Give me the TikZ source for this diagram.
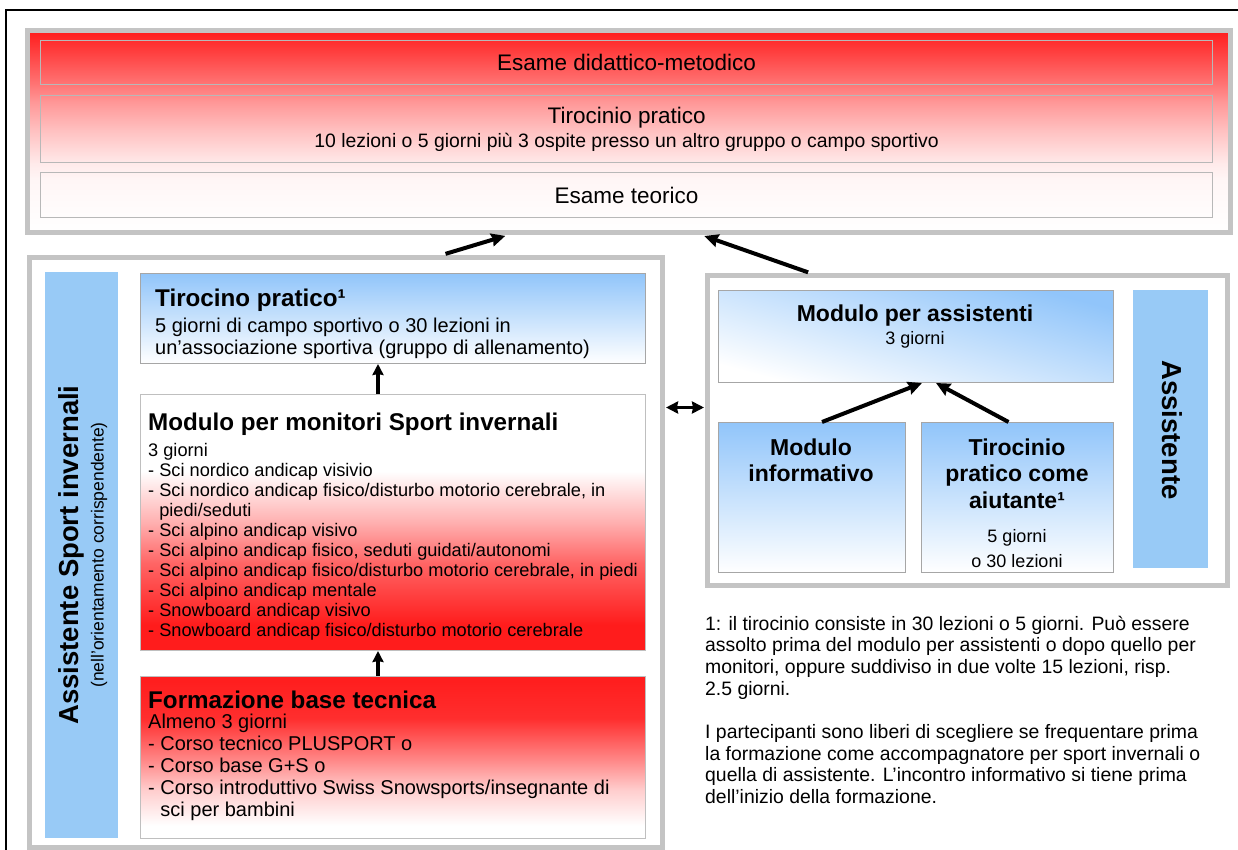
\documentclass[tikz,border=0pt]{standalone}
\usepackage{fontspec}
\setmainfont{Liberation Sans}
\usetikzlibrary{arrows.meta,positioning,calc}

\definecolor{hotred}{RGB}{255,28,28}
\definecolor{skyblue}{RGB}{145,197,250}
\definecolor{barblue}{RGB}{152,202,246}
\definecolor{framegray}{RGB}{196,196,196}

% fades, bottom (25bp) to top (75bp)
\pgfdeclareverticalshading{examfade}{100bp}{color(0bp)=(white); color(25bp)=(white); color(38bp)=(hotred!4!white); color(42bp)=(hotred!9!white); color(50bp)=(hotred!27!white); color(57bp)=(hotred!45!white); color(62bp)=(hotred!62!white); color(75bp)=(hotred); color(100bp)=(hotred)}
\pgfdeclareverticalshading{monfade}{100bp}{color(0bp)=(hotred); color(30bp)=(hotred); color(42bp)=(hotred!68!white); color(50bp)=(hotred!35!white); color(60bp)=(white); color(100bp)=(white)}
\pgfdeclareverticalshading{basefade}{100bp}{color(0bp)=(white); color(29bp)=(white); color(40bp)=(hotred!22!white); color(49bp)=(hotred!52!white); color(62bp)=(hotred!92!white); color(75bp)=(hotred); color(100bp)=(hotred)}

\newcommand\headfont{\fontsize{22.5}{26}\selectfont}
\newcommand\subfont{\fontsize{19.4}{24}\selectfont}
\newcommand\titlefont{\bfseries\fontsize{24.2}{27}\selectfont}
\newcommand\bodyfont{\fontsize{20}{22}\selectfont}
\newcommand\listfont{\fontsize{18.2}{20}\selectfont}
\newcommand\rtitlefont{\bfseries\fontsize{23}{26.5}\selectfont}
\newcommand\rbodyfont{\fontsize{18}{25}\selectfont}
\newcommand\notefont{\fontsize{19.4}{21.7}\selectfont}
\newcommand\barfont{\bfseries\fontsize{27.5}{30}\selectfont}

\tikzset{
  frame/.style={draw=framegray, line width=5pt, anchor=north west, inner sep=0pt},
  stripe/.style={draw=black!28, line width=1.2pt, minimum width=1172pt, anchor=north west, align=center, inner sep=0pt},
  bluebox/.style={draw=black!35, line width=1pt, top color=skyblue, bottom color=white, anchor=north west, inner sep=0pt},
  redbox/.style={draw=black!25, line width=1pt, shade, anchor=north west, inner sep=0pt},
  bar/.style={fill=barblue, anchor=north west, inner sep=0pt},
  txt/.style={anchor=base west, align=left, inner sep=0pt},
  ctxt/.style={anchor=base, align=center, inner sep=0pt},
  fat/.style={-{Stealth[length=14pt,width=13pt,inset=1.5pt]}, line width=4pt},
  fatshort/.style={-{Stealth[length=11pt,width=11pt,inset=1pt]}, line width=3.5pt},
  fatboth/.style={{Stealth[length=12pt,width=12pt,inset=1pt]}-{Stealth[length=12pt,width=12pt,inset=1pt]}, line width=3pt},
}

\begin{document}
\begin{tikzpicture}[x=1pt,y=-1pt]
\useasboundingbox (0,0) rectangle (1238,850);
\draw[line width=1.2pt] (6,850) -- (6,10) -- (1238,10);

% exams on top
\node[frame, shade, shading=examfade, minimum width=1203pt, minimum height=202pt] (examframe) at (25,28) {};
\node[stripe, minimum height=44pt, font=\headfont] (didattico) at (40,40) {Esame didattico-metodico};
\node[stripe, minimum height=67pt, font=\subfont] (tiropratico) at (40,95) {{\headfont Tirocinio pratico}\\10 lezioni o 5 giorni più 3 ospite presso un altro gruppo o campo sportivo};
\node[stripe, minimum height=45pt, font=\headfont] (teorico) at (40,172) {Esame teorico};

% winter sports path
\node[frame, fill=white, minimum width=633pt, minimum height=590pt] (wintframe) at (27,255) {};
\node[bar, minimum width=73pt, minimum height=566pt] (wintbar) at (45,272) {};
\node[rotate=90, font=\barfont, inner sep=0pt] (wintlabel) at (71,555) {Assistente Sport invernali};
\node[rotate=90, font=\fontsize{17.5}{20}\selectfont, inner sep=0pt] (wintsub) at (99,555) {(nell’orientamento corrispendente)};

\node[bluebox, minimum width=505pt, minimum height=90pt] (tirocino) at (140,273) {};
\node[txt, font=\titlefont] (tirocinoT) at (155,306) {Tirocino pratico¹};
\node[txt, font=\bodyfont] (tirocinoB) at (155,354) {5 giorni di campo sportivo o 30 lezioni in\\un’associazione sportiva (gruppo di allenamento)};

\node[redbox, shading=monfade, minimum width=505pt, minimum height=256pt] (monitori) at (140,394) {};
\node[txt, font=\titlefont] (monitoriT) at (148,430) {Modulo per monitori Sport invernali};
\node[txt, font=\listfont] (monitoriB) at (148,636) {3 giorni\\
- Sci nordico andicap visivio\\
- Sci nordico andicap fisico/disturbo motorio cerebrale, in\\
\phantom{- }piedi/seduti\\
- Sci alpino andicap visivo\\
- Sci alpino andicap fisico, seduti guidati/autonomi\\
- Sci alpino andicap fisico/disturbo motorio cerebrale, in piedi\\
- Sci alpino andicap mentale\\
- Snowboard andicap visivo\\
- Snowboard andicap fisico/disturbo motorio cerebrale};

\node[redbox, shading=basefade, minimum width=505pt, minimum height=162pt] (base) at (140,676) {};
\node[txt, font=\titlefont] (baseT) at (148,708) {Formazione base tecnica};
\node[txt, font=\bodyfont] (baseB) at (148,816) {Almeno 3 giorni\\
- Corso tecnico PLUSPORT o\\
- Corso base G+S o\\
- Corso introduttivo Swiss Snowsports/insegnante di\\
\phantom{- }sci per bambini};

\draw[fatshort] ([xshift=-15pt]monitori.north) -- ([xshift=-15pt]tirocino.south);
\draw[fatshort] ([xshift=-15pt]base.north) -- ([xshift=-15pt]monitori.south);

% assistant path
\node[frame, fill=white, minimum width=520pt, minimum height=310pt] (assframe) at (705,273) {};
\node[bluebox, shading angle=-15, minimum width=395pt, minimum height=92pt] (assmod) at (718,290) {};
\node[ctxt, font=\rtitlefont] (assmodT) at (915,321) {Modulo per assistenti};
\node[ctxt, font=\rbodyfont] (assmodB) at (915,344) {3 giorni};
\node[bar, minimum width=75pt, minimum height=278pt] (assbar) at (1133,290) {};
\node[rotate=-90, font=\barfont, inner sep=0pt] (asslabel) at (1172,430) {Assistente};

\node[bluebox, minimum width=187pt, minimum height=150pt] (info) at (718,422) {};
\node[ctxt, font=\rtitlefont] (infoT) at (811,481.5) {Modulo\\informativo};
\node[bluebox, minimum width=192pt, minimum height=150pt] (aiutante) at (921,422) {};
\node[ctxt, font=\rtitlefont] (aiutanteT) at (1017,508) {Tirocinio\\pratico come\\aiutante¹};
\node[ctxt, font=\rbodyfont] (aiutanteB) at (1017,567) {5 giorni\\o 30 lezioni};

\draw[fat] ([xshift=10pt]info.north) -- ([xshift=6pt]assmod.south);
\draw[fat] ([xshift=-9pt]aiutante.north) -- ([xshift=20pt]assmod.south);

% links between the paths
\draw[fat, shorten <=4pt, shorten >=3pt] ($(wintframe.north west)!.65!(wintframe.north east)$) -- ($(examframe.south west)!.4!(examframe.south east)$);
\draw[fat, shorten <=2pt, shorten >=3pt] ($(assframe.north west)!.2!(assframe.north east)$) -- ($(examframe.south west)!.56!(examframe.south east)$);
\draw[fatboth, shorten <=1pt, shorten >=1pt] ([yshift=145pt]wintframe.east) -- ([yshift=23pt]assframe.west);

% footnote
\node[txt, font=\notefont] (note) at (705,803.6) {1: il tirocinio consiste in 30 lezioni o 5 giorni. Può essere\\
assolto prima del modulo per assistenti o dopo quello per\\
monitori, oppure suddiviso in due volte 15 lezioni, risp.\\
2.5 giorni.\\[21.7pt]
I partecipanti sono liberi di scegliere se frequentare prima\\
la formazione come accompagnatore per sport invernali o\\
quella di assistente. L’incontro informativo si tiene prima\\
dell’inizio della formazione.};
\end{tikzpicture}
\end{document}
